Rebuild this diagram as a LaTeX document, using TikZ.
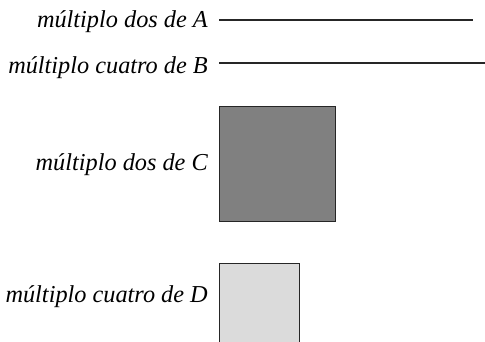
\documentclass[tikz,border=0pt]{standalone}
\usepackage{fontspec}
\setmainfont{Liberation Serif}
\begin{document}
\begin{tikzpicture}[x=1pt,y=1pt,
  lbl/.style={anchor=base east,inner sep=0pt,font=\fontsize{24.3}{27}\selectfont\itshape},
  bar/.style={line width=1.4pt,draw=black!85},
  sq/.style={draw=black!85,line width=1.4pt,inner sep=0pt,anchor=north west}]
\useasboundingbox (0,0) rectangle (485,342);
% A
\node[lbl] (tA) at (208,314) {múltiplo dos de A};
\coordinate (a1) at (219,322);
\coordinate (a2) at (473,322);
\draw[bar] (a1) -- (a2);
% B
\node[lbl] (tB) at (208,268) {múltiplo cuatro de B};
\coordinate (b1) at (219,279);
\coordinate (b2) at (485,279);
\draw[bar] (b1) -- (b2);
% C
\node[lbl] (tC) at (208,171) {múltiplo dos de C};
\node[sq,fill=black!50,minimum width=116pt,minimum height=115pt] (sC) at (219,236) {};
% D
\node[lbl] (tD) at (208,39) {múltiplo cuatro de D};
\node[sq,fill=black!14,minimum width=80pt,minimum height=80pt] (sD) at (219,79) {};
\end{tikzpicture}
\end{document}
